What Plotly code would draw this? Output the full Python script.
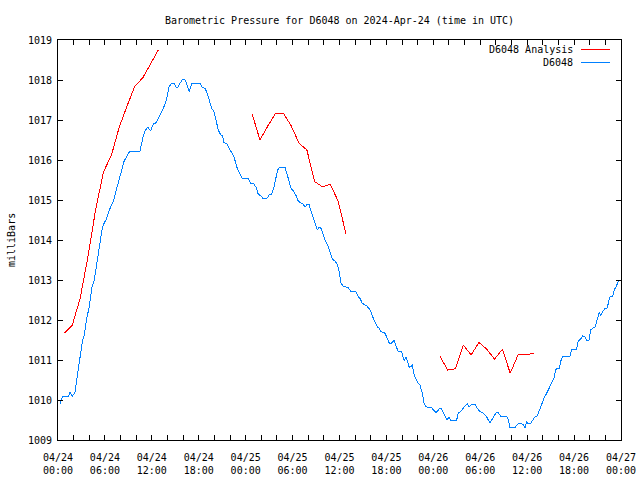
import plotly.graph_objects as go

# Time in hours since 2024-04-24 00:00 UTC
blue_hours = [0.26, 0.55, 1.32, 1.53, 1.83, 2.17, 2.47, 2.90, 3.11, 3.36, 3.67, 4.00, 4.31, 4.64, 4.95,
              5.28, 5.59, 5.79, 6.23, 6.56, 7.07, 7.51, 7.84, 8.15, 8.44, 8.99, 9.21, 10.49, 10.83, 11.13,
              11.47, 11.85, 12.19, 12.53, 13.04, 13.47, 13.90, 14.19, 14.54, 14.83, 15.09, 15.31, 15.60,
              15.95, 16.28, 16.53, 16.79, 17.10, 18.16, 18.38, 18.80, 19.09, 19.35, 19.65, 19.95, 20.20,
              20.50, 20.81, 21.06, 21.23, 21.57, 21.91, 22.51, 22.85, 23.18, 23.57, 24.34, 24.64, 25.06,
              25.41, 25.61, 25.92, 26.25, 26.69, 27.02, 27.33, 27.62, 27.88, 28.09, 28.30, 29.03, 29.32,
              29.58, 29.80, 30.09, 30.40, 30.65, 30.95, 31.29, 31.59, 31.88, 32.10, 32.31, 32.57, 32.86,
              33.16, 33.38, 33.63, 33.93, 34.23, 34.57, 34.78, 35.08, 35.42, 35.72, 35.97, 36.19, 36.48,
              37.12, 37.47, 38.11, 38.33, 38.62, 38.91, 39.13, 39.48, 39.77, 40.03, 40.24, 40.54, 40.83,
              41.09, 41.30, 41.82, 42.11, 42.37, 42.54, 42.80, 43.00, 43.22, 43.52, 43.95, 44.16, 44.28,
              44.50, 44.72, 44.92, 45.14, 45.31, 45.44, 45.65, 45.87, 46.07, 46.29, 46.51, 46.64, 46.80,
              47.06, 47.79, 48.00, 48.34, 48.55, 48.76, 49.07, 49.27, 49.49, 49.78, 50.00, 50.22, 50.98,
              51.19, 51.50, 51.75, 52.05, 52.34, 52.60, 52.90, 53.32, 53.62, 53.96, 54.26, 54.60, 54.82,
              55.03, 55.24, 55.46, 55.75, 56.01, 56.31, 56.61, 57.38, 57.58, 57.80, 58.44, 58.73, 59.08,
              59.50, 59.72, 59.94, 60.14, 60.45, 60.70, 61.00, 61.29, 61.55, 61.85, 62.15, 62.49, 62.83,
              63.13, 63.43, 63.64, 63.77, 64.10, 64.28, 64.54, 65.47, 65.69, 66.33, 66.53, 66.84, 67.09,
              67.39, 67.61, 67.90, 68.12, 68.37, 68.67, 68.89, 69.09, 69.22, 69.40, 69.65, 69.95, 70.24,
              70.42, 70.59, 70.93, 71.14, 71.36, 71.66, 71.87]
blue_mb = [1009.90, 1010.08, 1010.08, 1010.19, 1010.10, 1010.19, 1010.60, 1011.25, 1011.46, 1011.63,
           1012.04, 1012.33, 1012.79, 1013.00, 1013.42, 1013.83, 1014.21, 1014.38, 1014.54, 1014.75,
           1014.96, 1015.29, 1015.54, 1015.79, 1015.96, 1016.17, 1016.22, 1016.22, 1016.54, 1016.73,
           1016.82, 1016.73, 1016.90, 1016.93, 1017.13, 1017.29, 1017.52, 1017.83, 1017.92, 1017.92,
           1017.82, 1017.82, 1017.92, 1018.02, 1018.00, 1017.83, 1017.71, 1017.92, 1017.92, 1017.83,
           1017.79, 1017.67, 1017.50, 1017.29, 1017.21, 1017.00, 1016.75, 1016.63, 1016.60, 1016.43,
           1016.41, 1016.29, 1016.08, 1015.83, 1015.67, 1015.53, 1015.53, 1015.42, 1015.40, 1015.29,
           1015.14, 1015.11, 1015.03, 1015.03, 1015.13, 1015.14, 1015.33, 1015.58, 1015.75, 1015.82,
           1015.82, 1015.63, 1015.46, 1015.29, 1015.23, 1015.13, 1015.00, 1014.93, 1014.92, 1014.82,
           1014.90, 1014.90, 1014.75, 1014.58, 1014.42, 1014.25, 1014.33, 1014.29, 1014.13, 1013.96,
           1013.83, 1013.71, 1013.52, 1013.48, 1013.38, 1013.21, 1012.92, 1012.85, 1012.81, 1012.71,
           1012.71, 1012.60, 1012.54, 1012.42, 1012.40, 1012.35, 1012.29, 1012.21, 1012.08, 1011.96,
           1011.83, 1011.79, 1011.71, 1011.67, 1011.54, 1011.42, 1011.40, 1011.46, 1011.50, 1011.35,
           1011.21, 1011.20, 1011.04, 1010.98, 1011.08, 1010.93, 1010.82, 1010.83, 1010.90, 1010.71,
           1010.57, 1010.50, 1010.42, 1010.38, 1010.25, 1010.13, 1009.93, 1009.83, 1009.81, 1009.75,
           1009.69, 1009.72, 1009.79, 1009.78, 1009.68, 1009.60, 1009.50, 1009.58, 1009.50, 1009.50,
           1009.67, 1009.71, 1009.78, 1009.85, 1009.90, 1009.83, 1009.89, 1009.89, 1009.79, 1009.71,
           1009.69, 1009.63, 1009.58, 1009.50, 1009.42, 1009.50, 1009.60, 1009.68, 1009.68, 1009.60,
           1009.60, 1009.50, 1009.31, 1009.31, 1009.39, 1009.42, 1009.38, 1009.31, 1009.46, 1009.40,
           1009.42, 1009.50, 1009.58, 1009.60, 1009.75, 1009.92, 1010.04, 1010.17, 1010.29, 1010.42,
           1010.54, 1010.75, 1010.79, 1010.79, 1010.96, 1011.10, 1011.10, 1011.27, 1011.27, 1011.48,
           1011.52, 1011.60, 1011.58, 1011.50, 1011.50, 1011.75, 1011.79, 1011.83, 1011.96, 1012.08,
           1012.19, 1012.10, 1012.21, 1012.29, 1012.30, 1012.46, 1012.58, 1012.60, 1012.75, 1012.83,
           1012.96, 1013.00]

# Analysis series: three runs of hourly values (at hh:50), separated by gaps
red_hours_1 = [0.83 + i for i in range(13)]
red_mb_1 = [1011.67, 1011.875, 1012.54, 1013.58, 1014.78, 1015.71, 1016.12, 1016.82, 1017.35,
            1017.85, 1018.05, 1018.4, 1018.75]
red_hours_2 = [24.83 + i for i in range(13)]
red_mb_2 = [1017.15, 1016.5, 1016.85, 1017.17, 1017.17, 1016.85, 1016.42, 1016.25, 1015.46,
            1015.33, 1015.39, 1014.97, 1014.15]
red_hours_3 = [48.83 + i for i in range(13)]
red_mb_3 = [1011.1, 1010.75, 1010.78, 1011.375, 1011.125, 1011.44, 1011.27, 1011.02, 1011.27,
            1010.67, 1011.125, 1011.13, 1011.17]

red_hours = red_hours_1 + [None] + red_hours_2 + [None] + red_hours_3
red_mb = red_mb_1 + [None] + red_mb_2 + [None] + red_mb_3

tick_hours = list(range(0, 73, 2))
day_labels = {0: "04/24", 24: "04/25", 48: "04/26", 72: "04/27"}
tick_text = []
for h in tick_hours:
    if h % 6 == 0:
        d = day_labels[(h // 24) * 24]
        tick_text.append(f"{d}<br>{h % 24:02d}:00")
    else:
        tick_text.append("")

y_ticks = list(range(1009, 1020))

RED = "#ff0000"
BLUE = "#0080ff"
FONT = "DejaVu Sans Mono"

fig = go.Figure()
fig.add_trace(go.Scatter(x=red_hours, y=red_mb, mode="lines", name="D6048 Analysis",
                         line=dict(color=RED, width=1), connectgaps=False))
fig.add_trace(go.Scatter(x=blue_hours, y=blue_mb, mode="lines", name="D6048",
                         line=dict(color=BLUE, width=1)))

fig.update_layout(
    width=640, height=480,
    margin=dict(l=58, r=19, t=40, b=40, autoexpand=False),
    paper_bgcolor="white", plot_bgcolor="white",
    showlegend=False,
    font=dict(family=FONT, size=10, color="black"),
    title=dict(text="Barometric Pressure for D6048 on 2024-Apr-24 (time in UTC)",
               x=0.5, xref="paper", y=1 - 20 / 480, yref="container", yanchor="middle",
               font=dict(family=FONT, size=10, color="black")),
)
fig.update_xaxes(range=[0, 72], tickvals=tick_hours, ticktext=tick_text,
                 ticks="inside", ticklen=5, tickcolor="black", showline=True, linecolor="black",
                 linewidth=1, mirror="ticks", showgrid=False, zeroline=False,
                 ticklabelstandoff=8,
                 tickfont=dict(family=FONT, size=10, color="black"))
fig.update_yaxes(range=[1009, 1019], tickvals=y_ticks, ticktext=[str(v) for v in y_ticks],
                 ticks="inside", ticklen=5, tickcolor="black", showline=True, linecolor="black",
                 linewidth=1, mirror="ticks", showgrid=False, zeroline=False,
                 ticklabelstandoff=3,
                 tickfont=dict(family=FONT, size=10, color="black"))

# y axis title
fig.add_annotation(text="milliBars", xref="paper", yref="paper", x=(11 - 58) / 563, y=0.5,
                   textangle=-90, showarrow=False, xanchor="center", yanchor="middle",
                   font=dict(family=FONT, size=10, color="black"))

# gnuplot-style key: text right-aligned, sample line on the right
def px_x(px):
    return (px - 58) / 563

def px_y(py):
    return (440 - py) / 400

for label, color, py in [("D6048 Analysis", RED, 49.5), ("D6048", BLUE, 62.5)]:
    fig.add_annotation(text=label, xref="paper", yref="paper", x=px_x(575), y=px_y(py),
                       xanchor="right", yanchor="middle", showarrow=False,
                       font=dict(family=FONT, size=10, color="black"))
    fig.add_shape(type="line", xref="paper", yref="paper", x0=px_x(581), x1=px_x(610),
                  y0=px_y(py), y1=px_y(py), line=dict(color=color, width=1))

post = (
    "document.body.style.margin='0';"
    "document.querySelectorAll('.scatterlayer path').forEach(function(p){"
    "p.style.shapeRendering='crispEdges';});"
)
fig.write_html("out.html", post_script=post, config={"displayModeBar": False})
